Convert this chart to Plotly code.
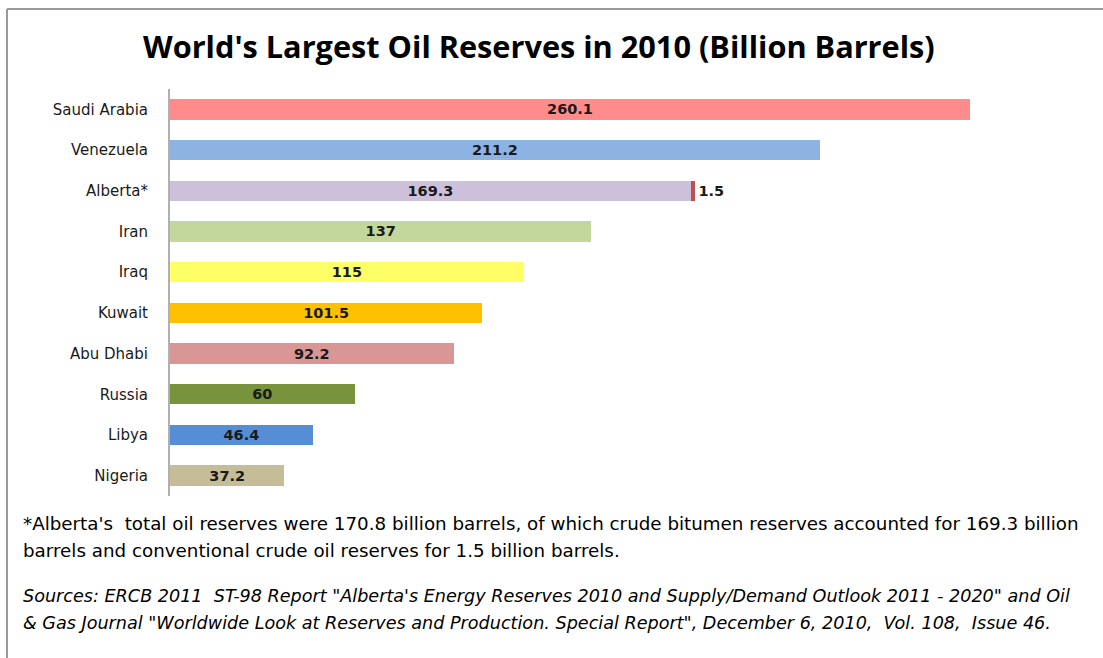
import plotly.graph_objects as go

countries = ["Saudi Arabia", "Venezuela", "Alberta*", "Iran", "Iraq", "Kuwait",
             "Abu Dhabi", "Russia", "Libya", "Nigeria"]
reserves = [260.1, 211.2, 169.3, 137, 115, 101.5, 92.2, 60, 46.4, 37.2]
bar_colors = ["#FF8B8B", "#8DB3E2", "#CCC0DA", "#C3D69B", "#FFFF66",
              "#FFC000", "#D99694", "#77933C", "#558ED5", "#C4BD97"]
alberta_conventional = [1.5]
alberta_cat = ["Alberta*"]

title_text = "World's Largest Oil Reserves in 2010 (Billion Barrels)"
note_lines = [
    "*Alberta's  total oil reserves were 170.8 billion barrels, of which crude bitumen reserves accounted for 169.3 billion",
    "barrels and conventional crude oil reserves for 1.5 billion barrels.",
]
source_lines = [
    "Sources: ERCB 2011  ST-98 Report \"Alberta's Energy Reserves 2010 and Supply/Demand Outlook 2011 - 2020\" and Oil",
    "&amp; Gas Journal \"Worldwide Look at Reserves and Production. Special Report\", December 6, 2010,  Vol. 108,  Issue 46.",
]

W, H = 1103, 658
ML, MR, MT, MB = 170, 33, 89, 162
plot_w = W - ML - MR
plot_h = H - MT - MB
px_per_unit = 3.076
xmax = plot_w / px_per_unit

label_font = dict(family="DejaVu Sans", size=14.5, color="#1a1a1a", weight="bold")

fig = go.Figure()
fig.add_trace(go.Bar(
    y=countries, x=reserves, orientation="h",
    marker=dict(color=bar_colors, line=dict(width=0)),
    text=[str(v) for v in reserves], textposition="inside",
    insidetextanchor="middle", textangle=0, constraintext="none",
    textfont=label_font,
    width=0.5, showlegend=False, hoverinfo="x+y",
))
fig.add_trace(go.Bar(
    y=alberta_cat, x=alberta_conventional, orientation="h",
    marker=dict(color="#C0504D", line=dict(width=0)),
    text=[str(v) for v in alberta_conventional], textposition="outside",
    textangle=0, cliponaxis=False, constraintext="none",
    textfont=label_font,
    width=0.5, showlegend=False,
))

def px2x(p):
    return (p - ML) / plot_w

def py2y(p):
    return 1 - (p - MT) / plot_h

shapes = [
    dict(type="line", xref="paper", yref="paper", x0=px2x(7), x1=px2x(W + 5),
         y0=py2y(9), y1=py2y(9), line=dict(color="#9a9a9a", width=2)),
    dict(type="line", xref="paper", yref="paper", x0=px2x(7), x1=px2x(7),
         y0=py2y(9), y1=py2y(H + 5), line=dict(color="#9a9a9a", width=2)),
]

annotations = [
    dict(text="<b>" + title_text + "</b>",
         xref="paper", yref="paper", x=px2x(539), y=py2y(46),
         xanchor="center", yanchor="middle", showarrow=False,
         font=dict(family="Open Sans", size=30.7, color="#000000")),
]
for line, yc in zip(note_lines, [523, 550]):
    annotations.append(dict(
        text=line, xref="paper", yref="paper", x=px2x(21), y=py2y(yc),
        xanchor="left", yanchor="middle", align="left", showarrow=False,
        font=dict(family="DejaVu Sans", size=18.3, color="#000000")))
for line, yc in zip(source_lines, [596, 623]):
    annotations.append(dict(
        text="<i>" + line + "</i>", xref="paper", yref="paper", x=px2x(21), y=py2y(yc),
        xanchor="left", yanchor="middle", align="left", showarrow=False,
        font=dict(family="DejaVu Sans", size=17.6, color="#000000")))

fig.update_layout(
    width=W, height=H,
    margin=dict(l=ML, r=MR, t=MT, b=MB),
    barmode="stack",
    paper_bgcolor="white", plot_bgcolor="white",
    showlegend=False,
    shapes=shapes, annotations=annotations,
    xaxis=dict(range=[0, xmax], showgrid=False, zeroline=False,
               showticklabels=False, ticks="", showline=False, fixedrange=True),
    yaxis=dict(categoryorder="array", categoryarray=countries[::-1],
               showgrid=False, zeroline=False, showline=True,
               linecolor="#b0b0b0", linewidth=2, ticks="",
               ticklabelstandoff=17,
               tickfont=dict(family="DejaVu Sans", size=15, color="#1a1a1a"),
               fixedrange=True),
)

fig.write_html("out.html", config={"displayModeBar": False},
               post_script="document.body.style.margin='0';document.body.style.overflow='hidden';")
